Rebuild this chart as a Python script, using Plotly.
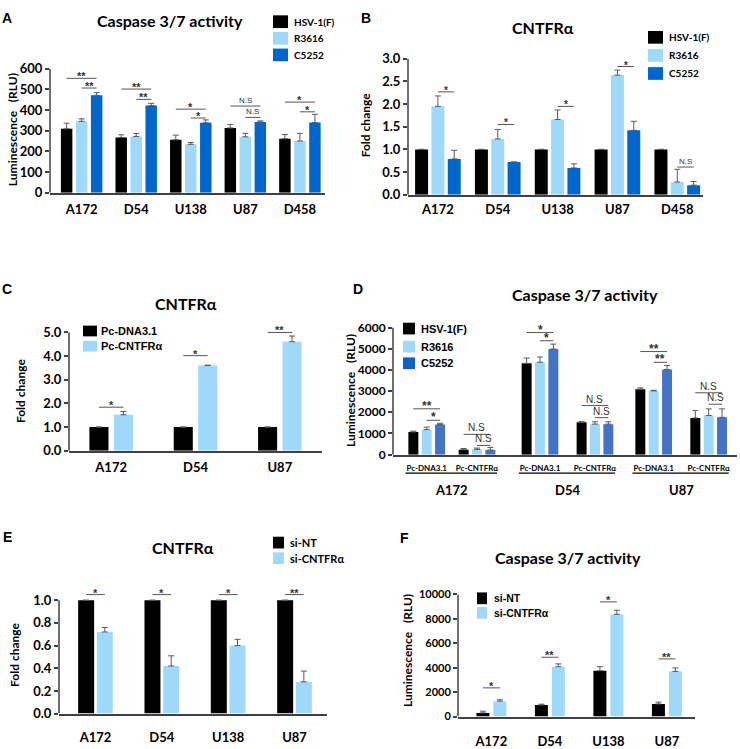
import plotly.graph_objects as go

W, H = 740, 749

BLACK = '#000000'
LIGHT = '#9FD9F9'
BLUE = '#0066CC'
BLUE_D = '#4472C4'
ERR = '#5A5A5A'
AXIS = '#404040'
BRACKET = '#555555'
LATO = 'Lato'
ARIAL = 'Liberation Sans'

# ---- panel A: caspase 3/7, virus strains
A_CELLS = ['A172', 'D54', 'U138', 'U87', 'D458']
A_SERIES = ['HSV-1(F)', 'R3616', 'C5252']
A_VALUES = [[309, 267, 256, 313, 261],
            [345, 272, 234, 270, 250],
            [471, 421, 338, 342, 339]]
A_ERRORS = [[27, 13, 22, 17, 20],
            [12, 14, 9, 17, 37],
            [13, 11, 14, 5, 40]]
# (category, from series, to series, level, label)
A_SIG = [(0, 0, 2, 553, '**'), (0, 1, 2, 506, '**'),
         (1, 0, 2, 501, '**'), (1, 1, 2, 451, '**'),
         (2, 0, 2, 404, '*'), (2, 1, 2, 361, '*'),
         (3, 0, 2, 419, 'N.S'), (3, 1, 2, 364, 'N.S'),
         (4, 0, 2, 438, '*'), (4, 1, 2, 391, '*')]

# ---- panel B: CNTFRa fold change, virus strains
B_CELLS = ['A172', 'D54', 'U138', 'U87', 'D458']
B_SERIES = ['HSV-1(F)', 'R3616', 'C5252']
B_VALUES = [[1.0, 1.0, 1.0, 1.0, 1.0],
            [1.95, 1.23, 1.66, 2.64, 0.28],
            [0.79, 0.72, 0.59, 1.42, 0.21]]
B_ERRORS = [[0, 0, 0, 0, 0],
            [0.23, 0.21, 0.21, 0.11, 0.28],
            [0.19, 0.0, 0.09, 0.20, 0.08]]
B_SIG = [(0, 1, 2, 2.27, '*'), (1, 1, 2, 1.55, '*'), (2, 1, 2, 1.95, '*'),
         (3, 1, 2, 2.83, '*'), (4, 1, 2, 0.61, 'N.S')]

# ---- panel C: CNTFRa overexpression
C_CELLS = ['A172', 'D54', 'U87']
C_SERIES = ['Pc-DNA3.1', 'Pc-CNTFRα']
C_VALUES = [[1.0, 1.0, 1.0],
            [1.52, 3.60, 4.61]]
C_ERRORS = [[0, 0, 0],
            [0.14, 0.02, 0.24]]
C_SIG = [(0, 0, 1, 1.84, '*'), (1, 0, 1, 4.02, '*'), (2, 0, 1, 5.0, '**')]

# ---- panel D: caspase 3/7 with overexpression
D_GROUPS = ['A172', 'D54', 'U87']
D_SUB = ['Pc-DNA3.1', 'Pc-CNTFRα']
D_SERIES = ['HSV-1(F)', 'R3616', 'C5252']
D_VALUES = [[1070, 230, 4310, 1530, 3090, 1730],
            [1180, 250, 4360, 1440, 3010, 1850],
            [1420, 220, 4990, 1440, 4020, 1760]]
D_ERRORS = [[40, 60, 250, 40, 60, 350],
            [120, 60, 250, 110, 30, 310],
            [60, 120, 230, 110, 190, 400]]
D_SIG = [(0, 0, 2, 2164, '**'), (0, 1, 2, 1623, '*'),
         (1, 0, 2, 958, 'N.S'), (1, 1, 2, 433, 'N.S'),
         (2, 0, 2, 5765, '*'), (2, 1, 2, 5379, '*'),
         (3, 0, 2, 2318, 'N.S'), (3, 1, 2, 1747, 'N.S'),
         (4, 0, 2, 4868, '**'), (4, 1, 2, 4359, '**'),
         (5, 0, 2, 2921, 'N.S'), (5, 1, 2, 2380, 'N.S')]

# ---- panel E: CNTFRa knockdown
E_CELLS = ['A172', 'D54', 'U138', 'U87']
E_SERIES = ['si-NT', 'si-CNTFRα']
E_VALUES = [[1.0, 1.0, 1.0, 1.0],
            [0.72, 0.42, 0.60, 0.28]]
E_ERRORS = [[0, 0, 0, 0],
            [0.04, 0.09, 0.055, 0.095]]
E_SIG = [(0, 0, 1, 1.05, '*'), (1, 0, 1, 1.05, '*'),
         (2, 0, 1, 1.05, '*'), (3, 0, 1, 1.05, '**')]

# ---- panel F: caspase 3/7 with knockdown
F_CELLS = ['A172', 'D54', 'U138', 'U87']
F_SERIES = ['si-NT', 'si-CNTFRα']
F_VALUES = [[300, 950, 3750, 1030],
            [1260, 4080, 8370, 3700]]
F_ERRORS = [[140, 60, 330, 150],
            [110, 230, 330, 280]]
F_SIG = [(0, 0, 1, 2347, '*'), (1, 0, 1, 4853, '**'),
         (2, 0, 1, 9387, '*'), (3, 0, 1, 4720, '**')]


def font(family=LATO, size=12, color='black', bold=True):
    return dict(family=family, size=size, color=color, weight='bold' if bold else 'normal')


fig = go.Figure()
shapes = []
annotations = []
axes = {}


def add_panel(n, positions, ticktext, series, values, errors, colors, sig, p):
    xa = 'x' if n == 1 else f'x{n}'
    ya = 'y' if n == 1 else f'y{n}'
    k = len(series)

    def center(c, i):
        return positions[c] + (i - (k - 1) / 2) * p['space']

    for i, name in enumerate(series):
        fig.add_trace(go.Bar(
            x=positions, y=values[i], name=name, xaxis=xa, yaxis=ya,
            width=p['bar'], offset=(i - (k - 1) / 2) * p['space'] - p['bar'] / 2,
            marker=dict(color=colors[i], line=dict(width=0)),
            error_y=dict(type='data', symmetric=False, array=errors[i],
                         arrayminus=[0] * len(errors[i]),
                         color=ERR, thickness=1, width=3),
            showlegend=False, hoverinfo='x+y+name'))

    x0px, x1px = p['xpx']
    y0px, ytop_px = p['ypx']
    ppu = (y0px - ytop_px) / p['ytop']
    dom_top = y0px - p['yrange'][1] * ppu
    axes['xaxis' if n == 1 else f'xaxis{n}'] = dict(
        domain=[x0px / W, x1px / W], anchor=ya, range=p['xrange'],
        tickvals=positions, ticktext=ticktext, ticks='',
        showline=True, linecolor=AXIS, linewidth=1.5,
        showgrid=False, zeroline=False, fixedrange=True,
        tickfont=font(size=p['xfont']), ticklabelstandoff=p['standoff'])
    axes['yaxis' if n == 1 else f'yaxis{n}'] = dict(
        domain=[1 - y0px / H, 1 - dom_top / H], anchor=xa, range=p['yrange'],
        tick0=0, dtick=p['dtick'], tickformat=p['fmt'],
        ticks='outside', ticklen=4, tickwidth=1.5, tickcolor=AXIS,
        showline=False, showgrid=False, zeroline=False, fixedrange=True,
        tickfont=font(size=p['yfont']))
    # y axis line, stopping at the top tick
    shapes.append(dict(type='line', xref=f'{xa} domain', yref=ya, x0=0, x1=0,
                       y0=0, y1=p['ytop'], line=dict(color=AXIS, width=1.5)))

    for c, a, b, level, label in sig:
        xs, xe = center(c, a), center(c, b)
        shapes.append(dict(type='line', xref=xa, yref=ya, x0=xs, x1=xe,
                           y0=level, y1=level, line=dict(color=BRACKET, width=1)))
        star = '*' in label
        annotations.append(dict(
            xref=xa, yref=ya, x=(xs + xe) / 2, y=level, text=label,
            showarrow=False, xanchor='center', yanchor='bottom',
            yshift=-5 if star else 0, borderpad=0,
            font=font(ARIAL, p['star'] if star else p['ns'], '#333333', bold=star)))

    # title, panel letter, y title
    tx, ty = p['title']
    annotations.append(dict(xref='paper', yref='paper', x=tx / W, y=1 - ty / H,
                            text=p['title_text'], showarrow=False,
                            xanchor='center', yanchor='middle', font=font(size=16)))
    lx, ly = p['letter']
    annotations.append(dict(xref='paper', yref='paper', x=lx / W, y=1 - ly / H,
                            text=p['letter_text'], showarrow=False,
                            xanchor='center', yanchor='middle', font=font(ARIAL, 14)))
    yx, yy = p['ytitle']
    annotations.append(dict(xref='paper', yref='paper', x=yx / W, y=1 - yy / H,
                            text=p['ytitle_text'], textangle=-90, showarrow=False,
                            xanchor='center', yanchor='middle', font=font(size=12)))

    # legend drawn as boxes and labels
    bx0, bx1 = p['leg_box']
    for i, name in enumerate(series):
        cy = p['leg_y'][i]
        shapes.append(dict(type='rect', xref='paper', yref='paper',
                           x0=bx0 / W, x1=bx1 / W,
                           y0=1 - (cy + p['leg_h'] / 2) / H, y1=1 - (cy - p['leg_h'] / 2) / H,
                           fillcolor=p.get('leg_colors', colors)[i], line=dict(width=0)))
        annotations.append(dict(xref='paper', yref='paper', x=p['leg_text'] / W,
                                y=1 - cy / H, text=name, showarrow=False,
                                xanchor='left', yanchor='middle',
                                font=font(p['leg_family'], p['leg_size'])))


add_panel(1, list(range(len(A_CELLS))), A_CELLS, A_SERIES, A_VALUES, A_ERRORS,
          [BLACK, LIGHT, BLUE], A_SIG,
          dict(xpx=(50, 325), ypx=(189, 62), ytop=600, yrange=[0, 600], dtick=100, fmt='d',
               xrange=[-0.58, 4.46], bar=0.21, space=0.275, xfont=13, yfont=13, standoff=4,
               star=11, ns=8, title=(170, 13), title_text='Caspase 3/7 activity',
               letter=(7, 10), letter_text='A', ytitle=(12, 125),
               ytitle_text='Luminescence   (RLU)',
               leg_box=(273, 288), leg_h=13, leg_y=[14, 31, 48], leg_text=292,
               leg_family=LATO, leg_size=10))

add_panel(2, list(range(len(B_CELLS))), B_CELLS, B_SERIES, B_VALUES, B_ERRORS,
          [BLACK, LIGHT, BLUE], B_SIG,
          dict(xpx=(408, 703), ypx=(191, 52), ytop=3.0, yrange=[0, 3.0], dtick=0.5, fmt='.1f',
               xrange=[-0.5, 4.43], bar=0.217, space=0.273, xfont=13, yfont=13, standoff=2,
               star=10, ns=8, title=(543, 20), title_text='CNTFRα',
               letter=(366, 10), letter_text='B', ytitle=(365, 120),
               ytitle_text='Fold change',
               leg_box=(648, 663), leg_h=13, leg_y=[30, 48.5, 67], leg_text=667,
               leg_family=LATO, leg_size=10))

add_panel(3, list(range(len(C_CELLS))), C_CELLS, C_SERIES, C_VALUES, C_ERRORS,
          [BLACK, LIGHT], C_SIG,
          dict(xpx=(69, 322), ypx=(453, 332), ytop=5.0, yrange=[0, 5.15], dtick=1.0, fmt='.1f',
               xrange=[-0.5, 2.5], bar=0.226, space=0.29, xfont=13, yfont=13, standoff=4,
               star=11, ns=8, title=(186, 302), title_text='CNTFRα',
               letter=(7, 288), letter_text='C', ytitle=(20, 392),
               ytitle_text='Fold change',
               leg_box=(83, 97), leg_h=11, leg_y=[330.5, 346], leg_text=99,
               leg_family=ARIAL, leg_size=11))

D_POS = [0.588, 1.465, 2.564, 3.523, 4.547, 5.506]
add_panel(4, D_POS, D_SUB * len(D_GROUPS), D_SERIES, D_VALUES, D_ERRORS,
          [BLACK, LIGHT, BLUE_D], D_SIG,
          dict(xpx=(393, 737), ypx=(457, 327), ytop=6000, yrange=[0, 6000], dtick=1000, fmt='d',
               xrange=[0, 6], bar=0.174, space=0.233, xfont=8, yfont=12, standoff=5,
               star=12, ns=10, title=(585, 293), title_text='Caspase 3/7 activity',
               letter=(358, 288), letter_text='D', ytitle=(350, 392),
               ytitle_text='Luminescence   (RLU)',
               leg_box=(403, 415), leg_h=12, leg_y=[328, 346.5, 363.5], leg_text=419,
               leg_family=ARIAL, leg_size=11, leg_colors=[BLACK, LIGHT, '#0A64C8']))
for g, name in enumerate(D_GROUPS):
    a, b = D_POS[2 * g], D_POS[2 * g + 1]
    shapes.append(dict(type='line', xref='x4', yref='paper', x0=a - 0.37, x1=b + 0.35,
                       y0=1 - 476 / H, y1=1 - 476 / H, line=dict(color=BLACK, width=1.2)))
    annotations.append(dict(xref='x4', yref='paper', x=(a + b) / 2, y=1 - 493 / H,
                            text=name, showarrow=False, xanchor='center',
                            yanchor='middle', font=font(size=13)))

add_panel(5, list(range(len(E_CELLS))), E_CELLS, E_SERIES, E_VALUES, E_ERRORS,
          [BLACK, LIGHT], E_SIG,
          dict(xpx=(59, 327), ypx=(722, 606), ytop=1.0, yrange=[0, 1.1], dtick=0.2, fmt='.1f',
               xrange=[-0.55, 3.49], bar=0.241, space=0.282, xfont=13, yfont=13, standoff=11,
               star=11, ns=8, title=(183, 552), title_text='CNTFRα',
               letter=(7, 541), letter_text='E', ytitle=(15, 662),
               ytitle_text='Fold change',
               leg_box=(273, 284), leg_h=12, leg_y=[547, 563], leg_text=288,
               leg_family=LATO, leg_size=11))

add_panel(6, list(range(len(F_CELLS))), F_CELLS, F_SERIES, F_VALUES, F_ERRORS,
          [BLACK, LIGHT], F_SIG,
          dict(xpx=(458, 695), ypx=(725, 600), ytop=10000, yrange=[0, 10000], dtick=2000, fmt='d',
               xrange=[-0.57, 3.48], bar=0.222, space=0.29, xfont=13, yfont=11, standoff=12,
               star=11, ns=8, title=(568, 562), title_text='Caspase 3/7 activity',
               letter=(405, 542), letter_text='F', ytitle=(407, 658),
               ytitle_text='Luminescence   (RLU)',
               leg_box=(477, 487), leg_h=12, leg_y=[604, 619], leg_text=492,
               leg_family=ARIAL, leg_size=10.5))

fig.update_layout(
    width=W, height=H, margin=dict(l=0, r=0, t=0, b=0),
    paper_bgcolor='white', plot_bgcolor='white',
    barmode='overlay', showlegend=False,
    shapes=shapes, annotations=annotations,
    font=dict(family=LATO, color='black'),
    **axes)

# the page body has a default 8px margin; drop it so the figure fills the window
fig.write_html('out.html', config={'displayModeBar': False},
               post_script="document.body.style.margin = '0';")
